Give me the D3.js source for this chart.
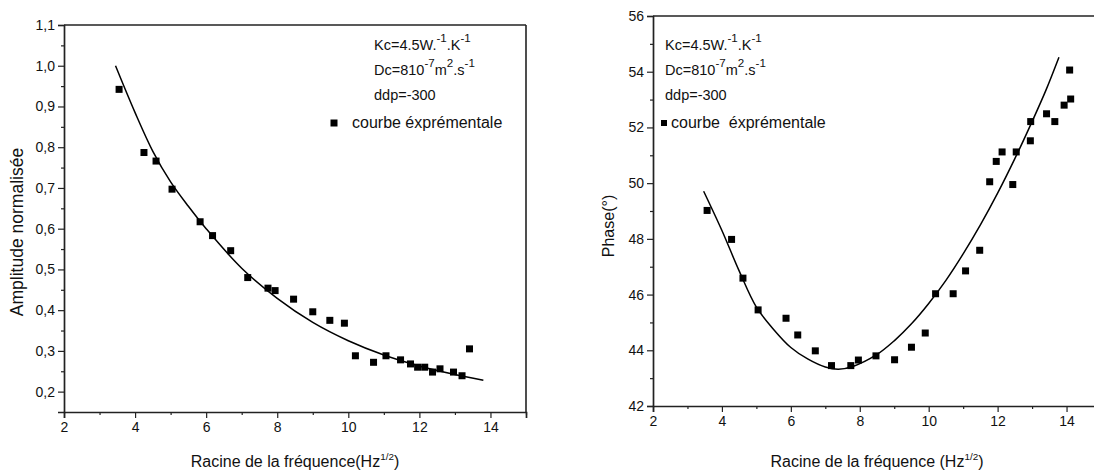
<!DOCTYPE html>
<html>
<head>
<meta charset="utf-8">
<script src="https://cdn.jsdelivr.net/npm/d3@7"></script>
<style>
  html, body { margin: 0; padding: 0; background: #fff; }
  svg { display: block; font-family: "Liberation Sans", Arial, sans-serif; }
</style>
</head>
<body>
<svg id="chart" width="1094" height="472"></svg>
<script>
// ---------- data ----------
const xTicks = [2, 4, 6, 8, 10, 12, 14];
const xMinorTicks = [3, 5, 7, 9, 11, 13, 15];

// left chart: normalised amplitude
const ampTicks = [0.2, 0.3, 0.4, 0.5, 0.6, 0.7, 0.8, 0.9, 1.0, 1.1];
const ampMinorTicks = [0.25, 0.35, 0.45, 0.55, 0.65, 0.75, 0.85, 0.95, 1.05];
const ampX = [3.55, 4.25, 4.59, 5.04, 5.83, 6.18, 6.69, 7.17, 7.74, 7.94, 8.46, 9.00, 9.48, 9.89,
              10.20, 10.71, 11.06, 11.47, 11.75, 11.95, 12.15, 12.37, 12.58, 12.96, 13.20, 13.41];
const ampY = [0.942, 0.787, 0.766, 0.697, 0.617, 0.583, 0.546, 0.480, 0.454, 0.448, 0.427, 0.396, 0.375, 0.368,
              0.288, 0.272, 0.288, 0.278, 0.268, 0.260, 0.260, 0.248, 0.256, 0.248, 0.239, 0.305];
const ampFitX = [3.45, 4.0, 4.5, 5.0, 5.5, 6.0, 7.0, 8.0, 9.0, 10.0, 11.0, 12.0, 13.0, 13.8];
const ampFitY = [1.0, 0.885, 0.79, 0.715, 0.655, 0.60, 0.503, 0.429, 0.37, 0.325, 0.29, 0.263, 0.242, 0.228];

// right chart: phase
const phaseTicks = [42, 44, 46, 48, 50, 52, 54, 56];
const phaseMinorTicks = [43, 45, 47, 49, 51, 53, 55];
const phaseX = [3.57, 4.28, 4.61, 5.05, 5.86, 6.20, 6.71, 7.18, 7.74, 7.96, 8.47, 9.01, 9.50, 9.90, 10.20,
                10.71, 11.07, 11.48, 11.77, 11.96, 12.13, 12.44, 12.54, 12.95, 12.96, 13.42, 13.66, 13.93, 14.12, 14.09];
const phaseY = [49.02, 47.98, 46.59, 45.45, 45.15, 44.55, 43.98, 43.45, 43.45, 43.65, 43.80, 43.66, 44.11, 44.62, 46.03,
                46.03, 46.85, 47.59, 50.05, 50.78, 51.12, 49.95, 51.12, 51.52, 52.21, 52.49, 52.21, 52.80, 53.02, 54.06];
const phaseFitX = [3.47, 4.0, 4.5, 5.0, 5.5, 6.0, 6.5, 7.0, 7.38, 7.8, 8.5, 9.0, 9.5, 10.0, 10.5, 11.0, 11.5, 12.0, 12.5, 13.0, 13.4, 13.78];
const phaseFitY = [49.71, 48.3, 46.85, 45.55, 44.75, 44.1, 43.68, 43.40, 43.32, 43.42, 43.85, 44.34, 44.95, 45.68, 46.51, 47.46, 48.5, 49.64, 50.88, 52.21, 53.33, 54.52];

// texts
const xTitleLeft = [["Racine de la fréquence(Hz", false], ["1/2", true], [")", false]];
const xTitleRight = [["Racine de la fréquence (Hz", false], ["1/2", true], [")", false]];
const yTitleLeft = "Amplitude normalisée";
const yTitleRight = "Phase(°)";
const noteLines = [
  [["Kc=4.5W.", false], ["-1", true], [".K", false], ["-1", true]],
  [["Dc=810", false], ["-7", true], ["m", false], ["2", true], [".s", false], ["-1", true]],
  [["ddp=-300", false]]
];
const legendLeft = "courbe éxprémentale";
const legendRight = "courbe\u00a0\u00a0éxprémentale";

// ---------- drawing ----------
const svg = d3.select("#chart");
const ink = "#111";

function richText(g, segs, x, y, size, anchor, rise, supScale) {
  const t = g.append("text").attr("x", x).attr("y", y)
    .attr("font-size", size).attr("fill", ink)
    .attr("text-anchor", anchor || "start");
  let raised = false;
  segs.forEach(([s, sup]) => {
    const ts = t.append("tspan").text(s);
    if (sup && !raised) { ts.attr("dy", -rise).attr("font-size", size * supScale); raised = true; }
    else if (sup) { ts.attr("font-size", size * supScale); }
    else if (!sup && raised) { ts.attr("dy", rise); raised = false; }
  });
  return t;
}

function panel(cfg) {
  const g = svg.append("g");
  const x = d3.scaleLinear().domain([2, 15]).range(cfg.xr);
  const y = d3.scaleLinear().domain(cfg.yd).range(cfg.yr);

  // frame (top + right)
  g.append("line").attr("x1", cfg.xr[0]).attr("x2", cfg.xr[1]).attr("y1", cfg.yr[1]).attr("y2", cfg.yr[1])
    .attr("stroke", "#222").attr("stroke-width", 1.6);
  g.append("line").attr("x1", cfg.xr[1]).attr("x2", cfg.xr[1]).attr("y1", cfg.yr[1]).attr("y2", cfg.yr[0])
    .attr("stroke", "#222").attr("stroke-width", 1.6);

  // x axis
  g.append("g").attr("transform", `translate(0,${cfg.yr[0]})`)
    .call(d3.axisBottom(x).tickValues(xTicks).tickSize(6).tickPadding(4).tickFormat(d3.format("d")));
  g.append("g").attr("transform", `translate(0,${cfg.yr[0]})`)
    .call(d3.axisBottom(x).tickValues(xMinorTicks).tickSize(3).tickFormat(""))
    .call(s => s.select(".domain").remove());
  // y axis
  g.append("g").attr("transform", `translate(${cfg.xr[0]},0)`)
    .call(d3.axisLeft(y).tickValues(cfg.ticks).tickSize(6).tickPadding(3).tickFormat(cfg.fmt));
  g.append("g").attr("transform", `translate(${cfg.xr[0]},0)`)
    .call(d3.axisLeft(y).tickValues(cfg.minor).tickSize(3).tickFormat(""))
    .call(s => s.select(".domain").remove());
  g.selectAll(".domain").attr("stroke", "#222").attr("stroke-width", 1.7);
  g.selectAll(".tick line").attr("stroke", "#222").attr("stroke-width", 1.2);
  g.selectAll(".tick text").attr("font-size", 14).attr("fill", ink)
    .attr("font-family", "'Liberation Sans', Arial, sans-serif");

  // fitted curve
  const fit = cfg.fitX.map((v, i) => [v, cfg.fitY[i]]);
  g.append("path").datum(fit)
    .attr("d", d3.line().x(d => x(d[0])).y(d => y(d[1])).curve(d3.curveCatmullRom.alpha(0.5)))
    .attr("fill", "none").attr("stroke", "#000").attr("stroke-width", 1.5);

  // points
  const pts = cfg.px.map((v, i) => [v, cfg.py[i]]);
  const s = 7;
  g.selectAll("rect.pt").data(pts).join("rect").attr("class", "pt")
    .attr("x", d => x(d[0]) - s / 2).attr("y", d => y(d[1]) - s / 2)
    .attr("width", s).attr("height", s).attr("fill", "#000");

  // axis titles
  richText(g, cfg.xTitle, (cfg.xr[0] + cfg.xr[1]) / 2, 467, 16, "middle", 7, 0.62);
  g.append("text").attr("transform", `translate(${cfg.yTitleX},${cfg.yTitleY}) rotate(-90)`)
    .attr("text-anchor", "middle").attr("font-size", cfg.yTitleSize).attr("fill", ink).text(cfg.yTitle);

  // notes
  noteLines.forEach((ln, i) => richText(g, ln, cfg.noteX, [50, 75, 100][i], 14.5, "start", 8, 0.8));
  // legend
  g.append("rect").attr("x", cfg.legMx - cfg.legMs / 2).attr("y", 123 - cfg.legMs / 2)
    .attr("width", cfg.legMs).attr("height", cfg.legMs).attr("fill", "#000");
  g.append("text").attr("x", cfg.legTx).attr("y", 128).attr("font-size", 16).attr("fill", ink).text(cfg.legend);
}

panel({
  xr: [64, 526], yr: [412, 25], yd: [0.15, 1.1],
  ticks: ampTicks, minor: ampMinorTicks, fmt: d => d3.format(".1f")(d).replace(".", ","),
  fitX: ampFitX, fitY: ampFitY, px: ampX, py: ampY,
  xTitle: xTitleLeft, yTitle: yTitleLeft, yTitleX: 23, yTitleY: 232, yTitleSize: 17.5,
  noteX: 374, legMx: 334, legMs: 7, legTx: 352, legend: legendLeft
});

panel({
  xr: [653, 1101], yr: [406, 16], yd: [42, 56],
  ticks: phaseTicks, minor: phaseMinorTicks, fmt: d3.format("d"),
  fitX: phaseFitX, fitY: phaseFitY, px: phaseX, py: phaseY,
  xTitle: xTitleRight, yTitle: yTitleRight, yTitleX: 614, yTitleY: 226, yTitleSize: 16,
  noteX: 665, legMx: 664, legMs: 6, legTx: 671, legend: legendRight
});
</script>
</body>
</html>
